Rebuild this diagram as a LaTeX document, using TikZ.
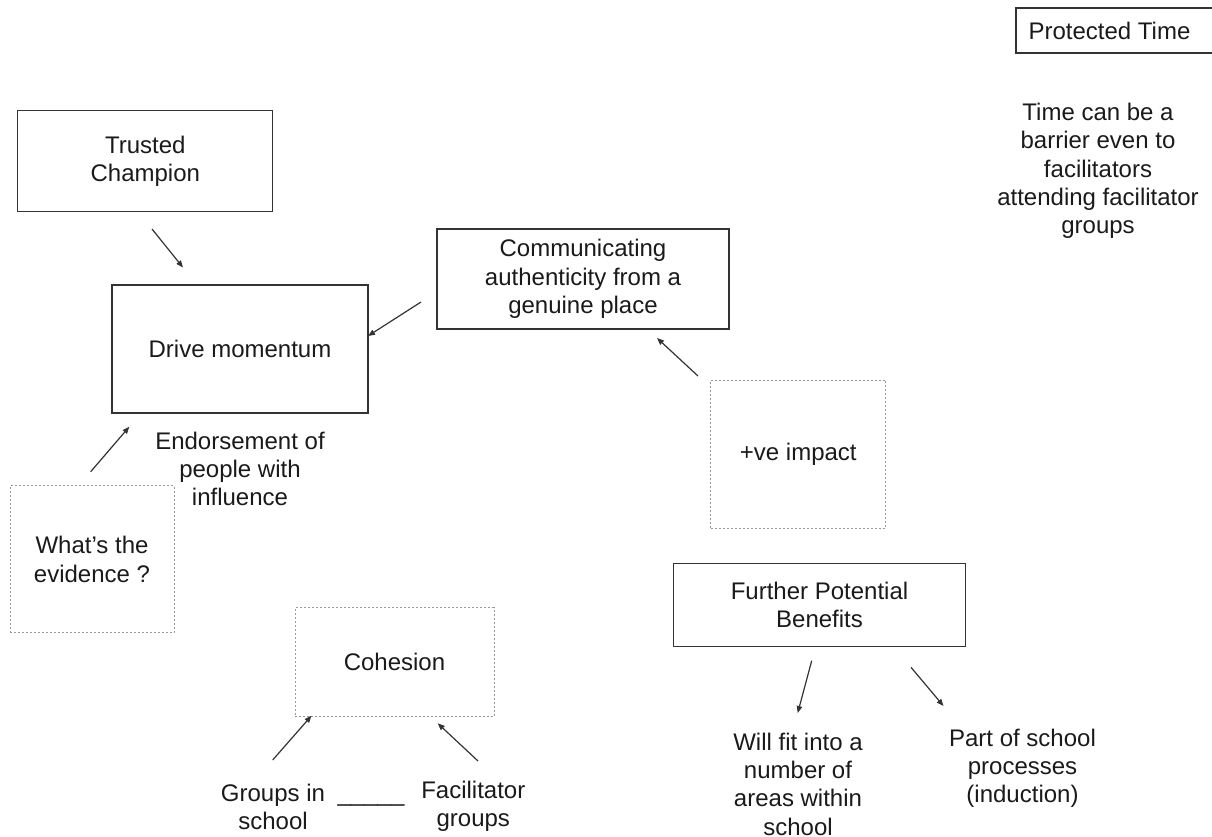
\documentclass[tikz,border=0pt]{standalone}
\usepackage{fontspec}
\setmainfont{Liberation Sans}
\usetikzlibrary{arrows.meta}
\definecolor{ink}{HTML}{1A1A1A}
\definecolor{edge}{HTML}{333333}
\definecolor{dotline}{HTML}{999999}
\tikzset{
  every node/.style={font=\fontsize{24pt}{28.3pt}\selectfont, text=ink, align=center, inner sep=0pt},
  solidbox/.style={draw=edge, line width=1.2pt},
  dotbox/.style={draw=dotline, line width=1pt, dash pattern=on 2pt off 2pt},
  link/.style={draw=edge, line width=1.2pt, -{Triangle[length=7pt,width=5.5pt]}},
}
\begin{document}
\begin{tikzpicture}[x=1pt,y=-1pt]
\useasboundingbox (0,0) rectangle (1212,836);
\clip (0,0) rectangle (1212,836);

% boxes
\node[anchor=west] (protected) at (1028.3,30.5) {Protected Time};
\draw[solidbox] (1016,8) rectangle (1240,53);
\node[solidbox, minimum width=255pt, minimum height=101pt] (champion) at (145.3,161.3) {Trusted\\Champion};
\node[solidbox, minimum width=256pt, minimum height=128pt] (drive) at (240,349) {Drive momentum};
\node[solidbox, minimum width=292pt, minimum height=100pt] (authentic) at (583,279) {Communicating\\authenticity from a\\genuine place};
\node[dotbox, minimum width=175pt, minimum height=148pt] (impact) at (798.3,454) {+ve impact};
\node[dotbox, minimum width=164pt, minimum height=147pt] (evidence) at (92,559.3) {What’s the\\evidence ?};
\node[dotbox, minimum width=199pt, minimum height=109pt] (cohesion) at (394.5,662.3) {Cohesion};
\node[solidbox, minimum width=292pt, minimum height=83pt] (further) at (819.5,605) {Further Potential\\Benefits};

% free text
\node (barrier) at (1098,171) {Time can be a\\barrier even to\\facilitators\\attending facilitator\\groups};
\node (endorse) at (240,469) {Endorsement of\\people with\\influence};
\node (ingroups) at (273,807) {Groups in\\school};
\node[anchor=base] (rule) at (371,801) {\_\_\_\_\_};
\node (facgroups) at (473.3,806) {Facilitator\\groups};
\node (fitinto) at (798,784) {Will fit into a\\number of\\areas within\\school};
\node (process) at (1022.5,768.3) {Part of school\\processes\\(induction)};

% arrow end points
\coordinate (a1) at (152,229);   \coordinate (b1) at (183,267.5);
\coordinate (a2) at (421,302);   \coordinate (b2) at (368,336);
\coordinate (a3) at (698,376);   \coordinate (b3) at (657,338);
\coordinate (a4) at (90.7,471.7); \coordinate (b4) at (129.3,426.7);
\coordinate (a5) at (272.7,760); \coordinate (b5) at (311.5,715.7);
\coordinate (a6) at (478,761);   \coordinate (b6) at (437.7,723.3);
\coordinate (a7) at (811.7,660.7); \coordinate (b7) at (797.7,713);
\coordinate (a8) at (911,667.3); \coordinate (b8) at (943.5,706);

% arrows
\draw[link] (a1) -- (b1);
\draw[link] (a2) -- (b2);
\draw[link] (a3) -- (b3);
\draw[link] (a4) -- (b4);
\draw[link] (a5) -- (b5);
\draw[link] (a6) -- (b6);
\draw[link] (a7) -- (b7);
\draw[link] (a8) -- (b8);
\end{tikzpicture}
\end{document}
